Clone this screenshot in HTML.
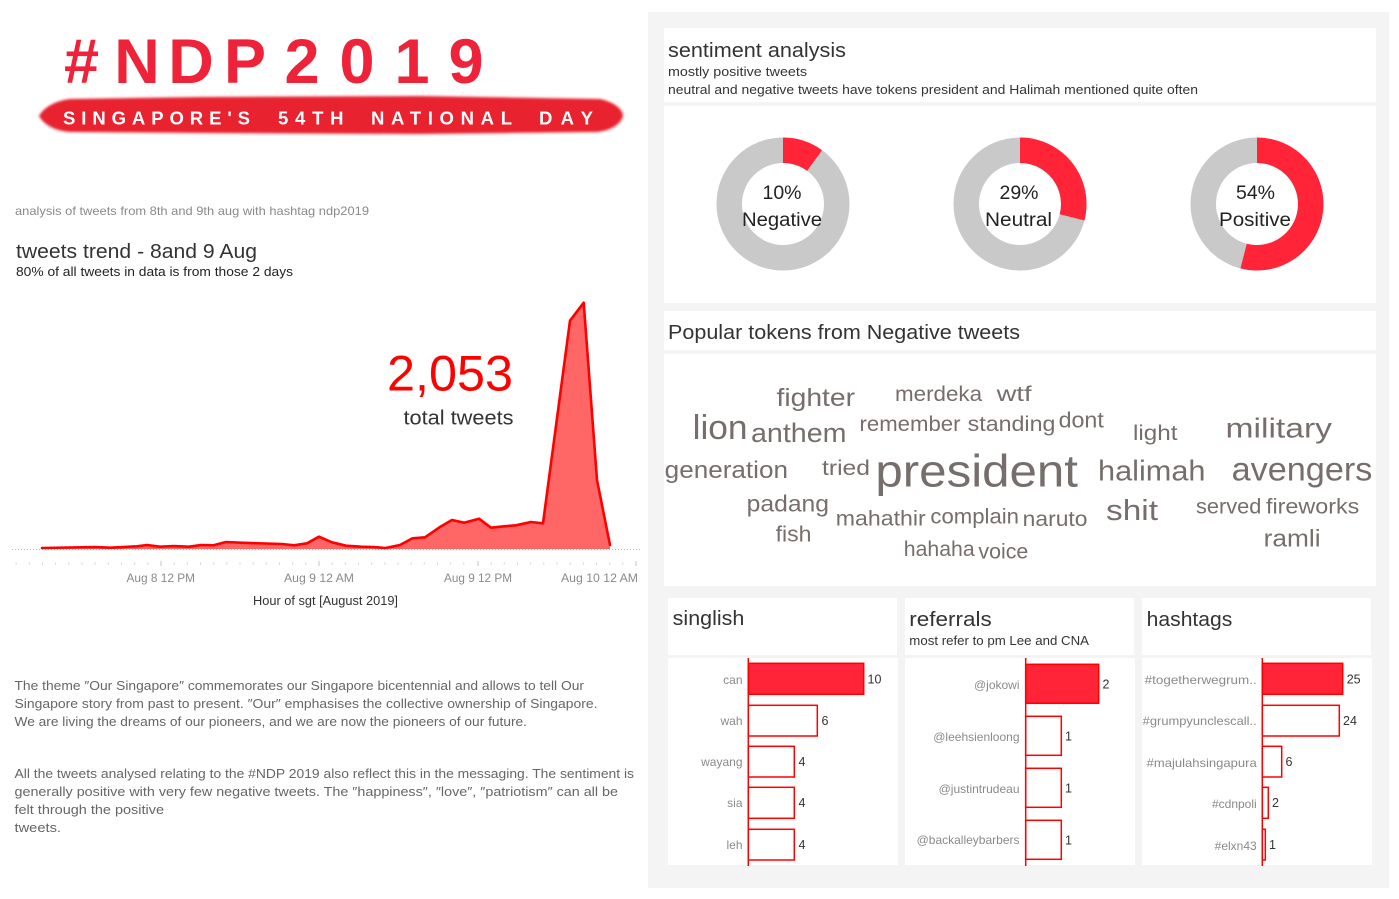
<!DOCTYPE html>
<html>
<head>
<meta charset="utf-8">
<style>
  html, body { margin:0; padding:0; background:#ffffff; }
  svg { display:block; }
  text { font-family: "Liberation Sans", sans-serif; }
</style>
</head>
<body>
<svg width="1399" height="899" viewBox="0 0 1399 899" xmlns="http://www.w3.org/2000/svg">
  <defs>
    <filter id="soft" x="-5%" y="-40%" width="110%" height="180%">
      <feGaussianBlur stdDeviation="1.3"/>
    </filter>
  </defs>
  <rect x="0" y="0" width="1399" height="899" fill="#ffffff"/>

  <!-- ===== Left: Title ===== -->
  <g fill="#ee2238" font-weight="bold" font-size="63" text-anchor="middle">
    <text x="81.5" y="83">#</text>
    <text x="137" y="83">N</text>
    <text x="191" y="83">D</text>
    <text x="245" y="83">P</text>
    <text x="302" y="83">2</text>
    <text x="357" y="83">0</text>
    <text x="412" y="83">1</text>
    <text x="466" y="83">9</text>
  </g>
  <!-- banner -->
  <path d="M39,116 C44,107 55,101 70,99 L200,97 L420,96 L600,99 C614,102 623,109 623,116 C621,124 612,130 598,132 L420,134 L200,133 L70,132 C55,131 44,125 39,116 Z" fill="#e8202e" filter="url(#soft)"/>
  <g fill="#ffffff" font-weight="bold" font-size="18.5">
    <text x="63" y="124.3" textLength="187" lengthAdjust="spacing">SINGAPORE'S</text>
    <text x="278" y="124.3" textLength="65.5" lengthAdjust="spacing">54TH</text>
    <text x="371" y="124.3" textLength="141" lengthAdjust="spacing">NATIONAL</text>
    <text x="539" y="124.3" textLength="54" lengthAdjust="spacing">DAY</text>
  </g>

  <!-- left texts -->
  <text x="15" y="215" font-size="12" fill="#8a8a8a" textLength="354" lengthAdjust="spacingAndGlyphs">analysis of tweets from 8th and 9th aug with hashtag ndp2019</text>
  <text x="16" y="258" font-size="20" fill="#333333" textLength="241" lengthAdjust="spacingAndGlyphs">tweets trend - 8and 9 Aug</text>
  <text x="16" y="276" font-size="12.5" fill="#222222" textLength="277" lengthAdjust="spacingAndGlyphs">80% of all tweets in data is from those 2 days</text>

  <!-- area chart -->
  <line x1="12" y1="549.5" x2="640" y2="549.5" stroke="#bdbdbd" stroke-width="1" stroke-dasharray="1,2"/>
  <path d="M42,549 L42,548 L95,547 L110,547.7 L137,546.3 L147,545 L160,546.7 L174,546 L189,546.7 L201,545 L213.5,545.3 L226,542 L240.5,542.7 L282,544 L294,545.3 L307,543.3 L319,536.7 L332,542.3 L346,545.7 L361,546.7 L373,547 L385.5,548 L400,545 L412.5,538.3 L425,537.3 L439.5,527.3 L452,520 L464,522.7 L479,518.7 L491,527.7 L504,526.3 L516,525.3 L530.7,522 L543,523.3 L570,320.7 L583.7,302.7 L597,480 L610,545 L610,549 Z" fill="#ff6666"/>
  <polyline points="42,548 95,547 110,547.7 137,546.3 147,545 160,546.7 174,546 189,546.7 201,545 213.5,545.3 226,542 240.5,542.7 282,544 294,545.3 307,543.3 319,536.7 332,542.3 346,545.7 361,546.7 373,547 385.5,548 400,545 412.5,538.3 425,537.3 439.5,527.3 452,520 464,522.7 479,518.7 491,527.7 504,526.3 516,525.3 530.7,522 543,523.3 570,320.7 583.7,302.7 597,480 610,545" fill="none" stroke="#ff0000" stroke-width="2.6" stroke-linejoin="round" stroke-linecap="round"/>

  <!-- ticks -->
  <g stroke="#d0d0d0" stroke-width="1">
    <line x1="16.1" y1="562.5" x2="16.1" y2="564.5"/><line x1="29.3" y1="562.5" x2="29.3" y2="564.5"/><line x1="42.5" y1="562.5" x2="42.5" y2="564.5"/><line x1="55.6" y1="562.5" x2="55.6" y2="564.5"/><line x1="68.8" y1="562.5" x2="68.8" y2="564.5"/><line x1="82" y1="562.5" x2="82" y2="564.5"/><line x1="95.2" y1="562.5" x2="95.2" y2="564.5"/><line x1="108.3" y1="562.5" x2="108.3" y2="564.5"/><line x1="121.5" y1="562.5" x2="121.5" y2="564.5"/><line x1="134.7" y1="562.5" x2="134.7" y2="564.5"/><line x1="147.8" y1="562.5" x2="147.8" y2="564.5"/>
    <line x1="174.2" y1="562.5" x2="174.2" y2="564.5"/><line x1="187.3" y1="562.5" x2="187.3" y2="564.5"/><line x1="200.5" y1="562.5" x2="200.5" y2="564.5"/><line x1="213.7" y1="562.5" x2="213.7" y2="564.5"/><line x1="226.8" y1="562.5" x2="226.8" y2="564.5"/><line x1="240" y1="562.5" x2="240" y2="564.5"/><line x1="253.2" y1="562.5" x2="253.2" y2="564.5"/><line x1="266.3" y1="562.5" x2="266.3" y2="564.5"/><line x1="279.5" y1="562.5" x2="279.5" y2="564.5"/><line x1="292.7" y1="562.5" x2="292.7" y2="564.5"/><line x1="305.8" y1="562.5" x2="305.8" y2="564.5"/>
    <line x1="332.2" y1="562.5" x2="332.2" y2="564.5"/><line x1="345.3" y1="562.5" x2="345.3" y2="564.5"/><line x1="358.5" y1="562.5" x2="358.5" y2="564.5"/><line x1="371.7" y1="562.5" x2="371.7" y2="564.5"/><line x1="384.8" y1="562.5" x2="384.8" y2="564.5"/><line x1="398" y1="562.5" x2="398" y2="564.5"/><line x1="411.2" y1="562.5" x2="411.2" y2="564.5"/><line x1="424.3" y1="562.5" x2="424.3" y2="564.5"/><line x1="437.5" y1="562.5" x2="437.5" y2="564.5"/><line x1="450.7" y1="562.5" x2="450.7" y2="564.5"/><line x1="463.8" y1="562.5" x2="463.8" y2="564.5"/>
    <line x1="491.2" y1="562.5" x2="491.2" y2="564.5"/><line x1="504.3" y1="562.5" x2="504.3" y2="564.5"/><line x1="517.5" y1="562.5" x2="517.5" y2="564.5"/><line x1="530.7" y1="562.5" x2="530.7" y2="564.5"/><line x1="543.8" y1="562.5" x2="543.8" y2="564.5"/><line x1="557" y1="562.5" x2="557" y2="564.5"/><line x1="570.2" y1="562.5" x2="570.2" y2="564.5"/><line x1="583.3" y1="562.5" x2="583.3" y2="564.5"/><line x1="596.5" y1="562.5" x2="596.5" y2="564.5"/><line x1="609.7" y1="562.5" x2="609.7" y2="564.5"/><line x1="622.8" y1="562.5" x2="622.8" y2="564.5"/>
  </g>
  <g stroke="#c4c4c4" stroke-width="1">
    <line x1="161" y1="561" x2="161" y2="566"/>
    <line x1="319" y1="561" x2="319" y2="566"/>
    <line x1="478" y1="561" x2="478" y2="566"/>
    <line x1="636" y1="561" x2="636" y2="566"/>
  </g>
  <g font-size="12" fill="#8a8a8a">
    <text x="126.5" y="582" textLength="68.5" lengthAdjust="spacingAndGlyphs">Aug 8 12 PM</text>
    <text x="284" y="582" textLength="70" lengthAdjust="spacingAndGlyphs">Aug 9 12 AM</text>
    <text x="444" y="582" textLength="68" lengthAdjust="spacingAndGlyphs">Aug 9 12 PM</text>
    <text x="561" y="582" textLength="77" lengthAdjust="spacingAndGlyphs">Aug 10 12 AM</text>
  </g>
  <text x="253" y="605" font-size="12.5" fill="#333333" textLength="145" lengthAdjust="spacingAndGlyphs">Hour of sgt [August 2019]</text>

  <text x="387" y="390.5" font-size="50" fill="#ff0000" textLength="126" lengthAdjust="spacingAndGlyphs">2,053</text>
  <text x="403.5" y="424.3" font-size="20" fill="#333333" textLength="110" lengthAdjust="spacingAndGlyphs">total tweets</text>

  <!-- bottom paragraphs -->
  <g font-size="12.5" fill="#666666">
    <text x="14.5" y="690" textLength="569.5" lengthAdjust="spacingAndGlyphs">The theme ″Our Singapore″ commemorates our Singapore bicentennial and allows to tell Our</text>
    <text x="14.5" y="708" textLength="583" lengthAdjust="spacingAndGlyphs">Singapore story from past to present. ″Our″ emphasises the collective ownership of Singapore.</text>
    <text x="14.5" y="726" textLength="512.5" lengthAdjust="spacingAndGlyphs">We are living the dreams of our pioneers, and we are now the pioneers of our future.</text>
    <text x="14.5" y="778" textLength="619.5" lengthAdjust="spacingAndGlyphs">All the tweets analysed relating to the #NDP 2019 also reflect this in the messaging. The sentiment is</text>
    <text x="14.5" y="796" textLength="603.5" lengthAdjust="spacingAndGlyphs">generally positive with very few negative tweets. The ″happiness″, ″love″, ″patriotism″ can all be</text>
    <text x="14.5" y="814" textLength="149.5" lengthAdjust="spacingAndGlyphs">felt through the positive</text>
    <text x="14.5" y="832" textLength="46.5" lengthAdjust="spacingAndGlyphs">tweets.</text>
  </g>

  <!-- ===== Right panel ===== -->
  <rect x="648" y="12" width="741" height="876" fill="#f4f4f4"/>
  <rect x="664" y="28" width="712" height="74" fill="#ffffff"/>
  <rect x="664" y="106" width="712" height="197" fill="#ffffff"/>
  <rect x="664" y="311" width="712" height="39" fill="#ffffff"/>
  <rect x="664" y="354" width="712" height="232" fill="#ffffff"/>
  <rect x="668" y="598" width="229" height="57" fill="#ffffff"/>
  <rect x="668" y="658" width="230" height="207" fill="#ffffff"/>
  <rect x="905" y="598" width="229" height="57" fill="#ffffff"/>
  <rect x="905" y="658" width="230" height="207" fill="#ffffff"/>
  <rect x="1142" y="598" width="229" height="57" fill="#ffffff"/>
  <rect x="1142" y="658" width="230" height="207" fill="#ffffff"/>

  <!-- sentiment header -->
  <text x="668" y="57" font-size="20" fill="#333333" textLength="178" lengthAdjust="spacingAndGlyphs">sentiment analysis</text>
  <text x="668" y="76" font-size="12.5" fill="#333333" textLength="139" lengthAdjust="spacingAndGlyphs">mostly positive tweets</text>
  <text x="668" y="94" font-size="12.5" fill="#333333" textLength="530" lengthAdjust="spacingAndGlyphs">neutral and negative tweets have tokens president and Halimah mentioned quite often</text>

  <!-- donuts -->
  <circle cx="783" cy="204" r="53.75" fill="none" stroke="#c9c9c9" stroke-width="25.5"/>
  <path d="M783,137.5 A66.5,66.5 0 0 1 822.09,150.2 L807.1,170.83 A41,41 0 0 0 783,163 Z" fill="#ff2438"/>
  <circle cx="1020" cy="204" r="53.75" fill="none" stroke="#c9c9c9" stroke-width="25.5"/>
  <path d="M1020,137.5 A66.5,66.5 0 0 1 1084.41,220.54 L1059.71,214.2 A41,41 0 0 0 1020,163 Z" fill="#ff2438"/>
  <circle cx="1257" cy="204" r="53.75" fill="none" stroke="#c9c9c9" stroke-width="25.5"/>
  <path d="M1257,137.5 A66.5,66.5 0 1 1 1240.46,268.41 L1246.8,243.71 A41,41 0 1 0 1257,163 Z" fill="#ff2438"/>
  <g font-size="19" fill="#222222">
    <text x="762.5" y="199" textLength="39" lengthAdjust="spacingAndGlyphs">10%</text>
    <text x="742" y="226" textLength="80" lengthAdjust="spacingAndGlyphs">Negative</text>
    <text x="999.5" y="199" textLength="39" lengthAdjust="spacingAndGlyphs">29%</text>
    <text x="985" y="226" textLength="67" lengthAdjust="spacingAndGlyphs">Neutral</text>
    <text x="1236" y="199" textLength="39" lengthAdjust="spacingAndGlyphs">54%</text>
    <text x="1219" y="226" textLength="72" lengthAdjust="spacingAndGlyphs">Positive</text>
  </g>

  <!-- word cloud -->
  <text x="668" y="339" font-size="20" fill="#333333" textLength="352" lengthAdjust="spacingAndGlyphs">Popular tokens from Negative tweets</text>
  <g fill="#766e6c">
    <text x="776.5" y="406" font-size="25" textLength="78.5" lengthAdjust="spacingAndGlyphs">fighter</text>
    <text x="895" y="401" font-size="21" textLength="87" lengthAdjust="spacingAndGlyphs">merdeka</text>
    <text x="996.6" y="401" font-size="21" textLength="35" lengthAdjust="spacingAndGlyphs">wtf</text>
    <text x="692.6" y="439" font-size="34" textLength="55" lengthAdjust="spacingAndGlyphs">lion</text>
    <text x="751" y="442" font-size="27" textLength="95.5" lengthAdjust="spacingAndGlyphs">anthem</text>
    <text x="859.5" y="431" font-size="21" textLength="101" lengthAdjust="spacingAndGlyphs">remember</text>
    <text x="967.7" y="431" font-size="21" textLength="87.7" lengthAdjust="spacingAndGlyphs">standing</text>
    <text x="1058.6" y="427.7" font-size="22" textLength="45.2" lengthAdjust="spacingAndGlyphs">dont</text>
    <text x="1133" y="440" font-size="21" textLength="44.5" lengthAdjust="spacingAndGlyphs">light</text>
    <text x="1225.5" y="437.7" font-size="28" textLength="106.5" lengthAdjust="spacingAndGlyphs">military</text>
    <text x="664.7" y="478" font-size="24" textLength="123.3" lengthAdjust="spacingAndGlyphs">generation</text>
    <text x="822" y="475" font-size="21" textLength="48" lengthAdjust="spacingAndGlyphs">tried</text>
    <text x="875.4" y="486.7" font-size="45" textLength="202.6" lengthAdjust="spacingAndGlyphs">president</text>
    <text x="1098" y="480.7" font-size="29" textLength="107.5" lengthAdjust="spacingAndGlyphs">halimah</text>
    <text x="1231.6" y="480.7" font-size="33" textLength="140.8" lengthAdjust="spacingAndGlyphs">avengers</text>
    <text x="746.7" y="511.7" font-size="23" textLength="82.3" lengthAdjust="spacingAndGlyphs">padang</text>
    <text x="835.8" y="525.7" font-size="21" textLength="89.9" lengthAdjust="spacingAndGlyphs">mahathir</text>
    <text x="930.4" y="523.3" font-size="21" textLength="88.6" lengthAdjust="spacingAndGlyphs">complain</text>
    <text x="1022.7" y="526" font-size="21" textLength="64.8" lengthAdjust="spacingAndGlyphs">naruto</text>
    <text x="1106" y="520" font-size="29" textLength="52" lengthAdjust="spacingAndGlyphs">shit</text>
    <text x="1196" y="513.3" font-size="21" textLength="65.4" lengthAdjust="spacingAndGlyphs">served</text>
    <text x="1266" y="513.3" font-size="21" textLength="93.3" lengthAdjust="spacingAndGlyphs">fireworks</text>
    <text x="775.6" y="541.7" font-size="22" textLength="35.9" lengthAdjust="spacingAndGlyphs">fish</text>
    <text x="1263.7" y="546.7" font-size="24" textLength="56.9" lengthAdjust="spacingAndGlyphs">ramli</text>
    <text x="903.8" y="556" font-size="21" textLength="70.9" lengthAdjust="spacingAndGlyphs">hahaha</text>
    <text x="978.4" y="558.3" font-size="21" textLength="49.9" lengthAdjust="spacingAndGlyphs">voice</text>
  </g>

  <!-- singlish -->
  <text x="672.7" y="625" font-size="20" fill="#333333" textLength="71.6" lengthAdjust="spacingAndGlyphs">singlish</text>
  <g fill="#ffffff" stroke="#ff0000" stroke-width="1.5">
    <rect x="748.3" y="663.3" width="115.4" height="31" fill="#ff2438"/>
    <rect x="748.3" y="705.3" width="69" height="30.7"/>
    <rect x="748.3" y="746.3" width="46" height="30.7"/>
    <rect x="748.3" y="787.3" width="46" height="31"/>
    <rect x="748.3" y="829.3" width="46" height="30.7"/>
  </g>
  <line x1="748.3" y1="658" x2="748.3" y2="866" stroke="#ff0000" stroke-width="1.5"/>
  <g font-size="12" fill="#8a8a8a" text-anchor="end">
    <text x="742.5" y="684">can</text>
    <text x="742.5" y="725">wah</text>
    <text x="742.5" y="766">wayang</text>
    <text x="742.5" y="807">sia</text>
    <text x="742.5" y="849">leh</text>
  </g>
  <g font-size="12.5" fill="#333333">
    <text x="867.5" y="683.5">10</text>
    <text x="821.5" y="725">6</text>
    <text x="798.5" y="766">4</text>
    <text x="798.5" y="807">4</text>
    <text x="798.5" y="849">4</text>
  </g>

  <!-- referrals -->
  <text x="909.3" y="626" font-size="20" fill="#333333" textLength="82.4" lengthAdjust="spacingAndGlyphs">referrals</text>
  <text x="909.3" y="645" font-size="12.5" fill="#333333" textLength="179.7" lengthAdjust="spacingAndGlyphs">most refer to pm Lee and CNA</text>
  <g fill="#ffffff" stroke="#ff0000" stroke-width="1.5">
    <rect x="1025.7" y="664.3" width="73" height="39" fill="#ff2438"/>
    <rect x="1025.7" y="716.3" width="35.6" height="39"/>
    <rect x="1025.7" y="768.3" width="35.6" height="39"/>
    <rect x="1025.7" y="820.3" width="35.6" height="39"/>
  </g>
  <line x1="1025.7" y1="658" x2="1025.7" y2="866" stroke="#ff0000" stroke-width="1.5"/>
  <g font-size="12" fill="#8a8a8a" text-anchor="end">
    <text x="1019.5" y="689">@jokowi</text>
    <text x="1019.5" y="741">@leehsienloong</text>
    <text x="1019.5" y="793">@justintrudeau</text>
    <text x="1019.5" y="844">@backalleybarbers</text>
  </g>
  <g font-size="12.5" fill="#333333">
    <text x="1102.5" y="688.5">2</text>
    <text x="1065" y="740.5">1</text>
    <text x="1065" y="792.5">1</text>
    <text x="1065" y="844.5">1</text>
  </g>

  <!-- hashtags -->
  <text x="1146.7" y="626" font-size="20" fill="#333333" textLength="85.6" lengthAdjust="spacingAndGlyphs">hashtags</text>
  <g fill="#ffffff" stroke="#ff0000" stroke-width="1.5">
    <rect x="1262.3" y="663.3" width="80.4" height="31" fill="#ff2438"/>
    <rect x="1262.3" y="705.3" width="77" height="30.7"/>
    <rect x="1262.3" y="746.3" width="19.4" height="30.7"/>
    <rect x="1262.3" y="787.3" width="6" height="31"/>
    <rect x="1262.3" y="829.3" width="3" height="30.7"/>
  </g>
  <line x1="1262.3" y1="658" x2="1262.3" y2="866" stroke="#ff0000" stroke-width="1.5"/>
  <g font-size="12" fill="#8a8a8a" text-anchor="end">
    <text x="1256.7" y="684" textLength="112" lengthAdjust="spacingAndGlyphs">#togetherwegrum..</text>
    <text x="1256.7" y="725" textLength="114" lengthAdjust="spacingAndGlyphs">#grumpyunclescall..</text>
    <text x="1256.7" y="767" textLength="110" lengthAdjust="spacingAndGlyphs">#majulahsingapura</text>
    <text x="1256.7" y="808">#cdnpoli</text>
    <text x="1256.7" y="850">#elxn43</text>
  </g>
  <g font-size="12.5" fill="#333333">
    <text x="1346.7" y="683.5">25</text>
    <text x="1343" y="725">24</text>
    <text x="1285.5" y="766">6</text>
    <text x="1272" y="807">2</text>
    <text x="1269" y="849">1</text>
  </g>
</svg>
</body>
</html>
